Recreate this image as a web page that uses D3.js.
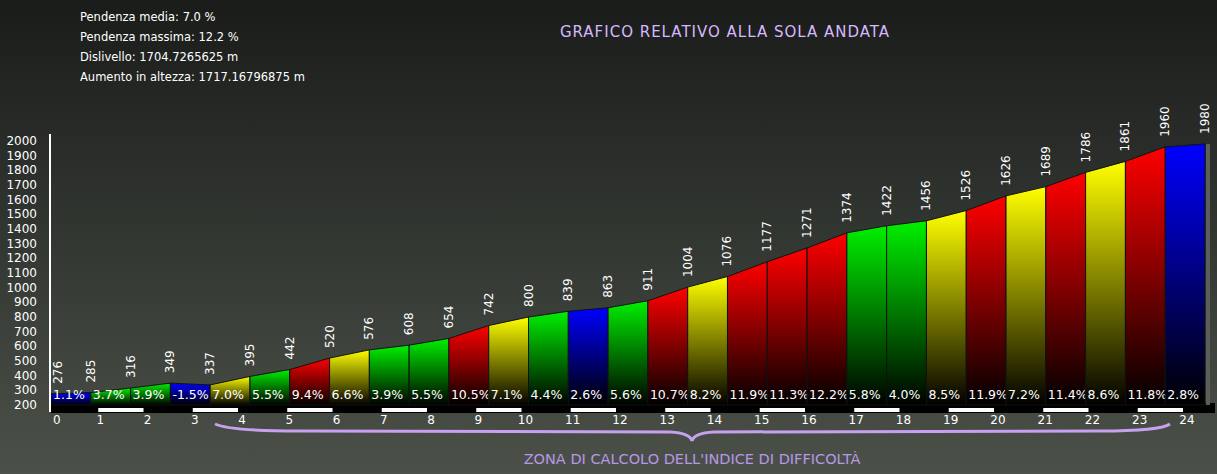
<!DOCTYPE html><html><head><meta charset="utf-8">
<script src="https://cdn.jsdelivr.net/npm/d3@7"></script>
<style>body{margin:0;background:#222}svg{display:block;font-family:"DejaVu Sans",sans-serif}</style></head><body>
<svg id="c" width="1217" height="474"></svg>
<script>
const elevations=[276,285,316,349,337,395,442,520,576,608,654,742,800,839,863,911,1004,1076,1177,1271,1374,1422,1456,1526,1626,1689,1786,1861,1960,1980];
const grades=[1.1,3.7,3.9,-1.5,7.0,5.5,9.4,6.6,3.9,5.5,10.5,7.1,4.4,2.6,5.6,10.7,8.2,11.9,11.3,12.2,5.8,4.0,8.5,11.9,7.2,11.4,8.6,11.8,2.8];
const kmTicks=d3.range(0,25);
const yTicks=d3.range(200,2001,100);
const infoLines=["Pendenza media: 7.0 %","Pendenza massima: 12.2 %","Dislivello: 1704.7265625 m","Aumento in altezza: 1717.16796875 m"];
const totalKm=24.4;
const segKm=totalKm/grades.length;

const svg=d3.select("#c");
const defs=svg.append("defs");
const bg=defs.append("linearGradient").attr("id","bg").attr("x1",0).attr("y1",0).attr("x2",0).attr("y2",1);
bg.append("stop").attr("offset",0).attr("stop-color","#1a1c1a");
bg.append("stop").attr("offset",1).attr("stop-color","#4b5149");
svg.append("rect").attr("width",1217).attr("height",474).attr("fill","url(#bg)");

const x=d3.scaleLinear().domain([0,totalKm]).range([51,1205]);
const y=d3.scaleLinear().domain([200,2000]).range([405,141]);
const col=g=>g<3?"#0000ff":g<6?"#00f000":g<9?"#ffff00":"#ff0000";
["#0000ff","#00f000","#ffff00","#ff0000"].forEach((c,i)=>{
  const lg=defs.append("linearGradient").attr("id","g"+i).attr("x1",0).attr("y1",0).attr("x2",0).attr("y2",1);
  lg.append("stop").attr("offset",0).attr("stop-color",c);
  lg.append("stop").attr("offset",1).attr("stop-color","#000");
});
const gid=g=>"url(#g"+["#0000ff","#00f000","#ffff00","#ff0000"].indexOf(col(g))+")";

svg.append("rect").attr("x",x(0)).attr("y",y(200)-2).attr("width",x(totalKm)+10-x(0)).attr("height",10).attr("fill","#000");
svg.append("rect").attr("x",x(totalKm)+1).attr("y",y(1980)).attr("width",4).attr("height",y(200)-y(1980)).attr("fill","#5a5f5a");

grades.forEach((g,i)=>{
  const x0=x(i*segKm),x1=x((i+1)*segKm);
  svg.append("path").attr("d",`M${x0},${y(200)}L${x0},${y(elevations[i])}L${x1},${y(elevations[i+1])}L${x1},${y(200)}Z`)
    .attr("fill",gid(g)).attr("stroke","#111").attr("stroke-width",1);
  svg.append("text").attr("x",x0+2).attr("y",399).attr("fill","#fff").attr("font-size",12.5).text(g.toFixed(1)+"%");
});
elevations.forEach((e,i)=>{
  const xx=x(i*segKm)+(i===0?7:0);
  svg.append("text").attr("transform",`translate(${xx+4},${y(e)-10}) rotate(-90)`).attr("fill","#fff").attr("font-size",12).text(e);
});
const kx=d3.scaleLinear().domain([0,24]).range([53,1187]);
kmTicks.forEach(k=>{
  if(k%2===1&&k<24) svg.append("rect").attr("x",kx(k)-2).attr("y",408).attr("width",kx(k+1)-kx(k)-2).attr("height",4).attr("fill","#fff");
  svg.append("text").attr("x",kx(k)).attr("y",424).attr("fill","#fff").attr("font-size",12).attr("text-anchor",k===0?"start":"middle").text(k);
});
svg.append("line").attr("x1",50).attr("x2",50).attr("y1",134).attr("y2",412).attr("stroke","#fff").attr("stroke-width",2);
yTicks.forEach(t=>svg.append("text").attr("x",37).attr("y",y(t)+4).attr("fill","#fff").attr("font-size",12).attr("text-anchor","end").text(t));

infoLines.forEach((t,i)=>svg.append("text").attr("x",80).attr("y",21+i*20).attr("fill","#fff").attr("font-size",11.5).text(t));
svg.append("text").attr("x",725).attr("y",37).attr("fill","#d7b8ff").attr("font-size",15).attr("letter-spacing",1).attr("text-anchor","middle").text("GRAFICO RELATIVO ALLA SOLA ANDATA");
svg.append("path").attr("d","M215,424 Q230,431 300,431 L670,432 Q690,433 692,441 Q694,433 714,432 L1100,431 Q1160,431 1170,424")
  .attr("fill","none").attr("stroke","#c8a0f0").attr("stroke-width",3);
svg.append("text").attr("x",692).attr("y",464).attr("fill","#b897e6").attr("font-size",14.5).attr("text-anchor","middle").text("ZONA DI CALCOLO DELL'INDICE DI DIFFICOLTÀ");
</script></body></html>
